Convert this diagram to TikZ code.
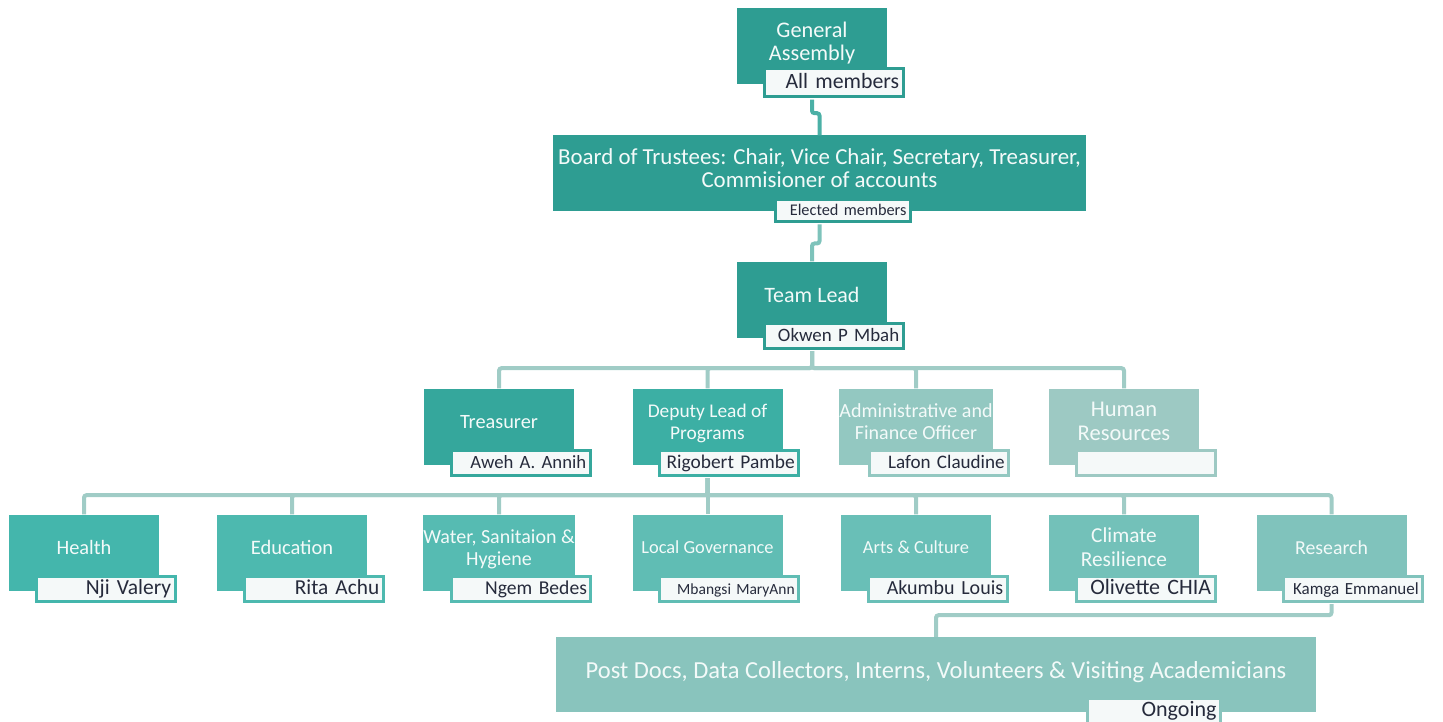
\documentclass[tikz,border=0pt]{standalone}
\usepackage{fontspec}
\setmainfont{Carlito}
\usepackage{xcolor}
\usepackage{tikz}
\usetikzlibrary{positioning}
\definecolor{cTop}{HTML}{2E9D92}
\definecolor{cTreas}{HTML}{35A79C}
\definecolor{cDeputy}{HTML}{3CAFA4}
\definecolor{cAdmin}{HTML}{93C8C1}
\definecolor{cHR}{HTML}{9DC9C3}
\definecolor{cHealth}{HTML}{44B6AC}
\definecolor{cEdu}{HTML}{4DB9AF}
\definecolor{cWash}{HTML}{56BBB2}
\definecolor{cGov}{HTML}{60BDB4}
\definecolor{cArts}{HTML}{69BFB7}
\definecolor{cClimate}{HTML}{73C1B9}
\definecolor{cResearch}{HTML}{80C3BC}
\definecolor{cPost}{HTML}{89C4BD}
\definecolor{cLinkA}{HTML}{4BB0A6}
\definecolor{cLinkB}{HTML}{7EC3BB}
\definecolor{cLink}{HTML}{A0CCC6}
\definecolor{boxtext}{HTML}{F3FAF9}
\definecolor{holderfill}{HTML}{F5F9F9}
\definecolor{nametext}{HTML}{262B3C}
\newcommand{\fsz}[2]{\fontsize{#1}{#2}\selectfont}
\tikzstyle{role} = [rectangle, text=boxtext, minimum width=150pt,
    minimum height=76pt, inner sep=0pt, align=center, text depth=10pt]
\tikzstyle{link} = [line width=4pt, draw=cLink, rounded corners=2.5pt,
    shorten <=1.5pt]
\tikzset{holder/.style={rectangle, draw=#1, line width=3pt, fill=holderfill,
    text=nametext, minimum width=139pt, minimum height=25pt, text width=131pt,
    align=right, inner xsep=4pt, inner ysep=0pt, text height=14pt,
    text depth=3pt}}

\begin{document}
\begin{tikzpicture}[x=1pt, y=-1pt]
    \path[use as bounding box, clip] (0,0) rectangle (1443,722);

    % Governance
    \node[role, fill=cTop, font=\fsz{22.3}{23}] (assembly) at (812,46.5) {General\\Assembly};
    \node[holder=cTop, minimum height=28pt, font=\fsz{21.8}{24},
        above left=-13.5pt and -17.5pt of assembly.south east] (assemblysub) {All members};
    \node[role, fill=cTop, minimum width=533pt, font=\fsz{22.9}{23}] (board) at (819.5,173.5)
        {Board of Trustees: Chair, Vice Chair, Secretary, Treasurer,\\Commisioner of accounts};
    \node[holder=cTop, minimum width=135pt, text width=127pt, minimum height=22pt,
        text height=12pt, font=\fsz{16.3}{18}] (boardsub) at (843,210.5) {Elected members};
    \node[role, fill=cTop, font=\fsz{22}{24}] (lead) at (812,299.5) {Team Lead};
    \node[holder=cTop, font=\fsz{18.9}{22}, above left=-12pt and -17.5pt of lead.south east] (leadsub) {Okwen P Mbah};

    % Management
    \node[role, fill=cTreas, font=\fsz{20.3}{22}] (treas) at (499,426.5) {Treasurer};
    \node[holder=cTreas, font=\fsz{18.7}{22}, above left=-12pt and -17.5pt of treas.south east] (treassub) {Aweh A. Annih};
    \node[role, fill=cDeputy, font=\fsz{19.4}{22}] (deputy) at (707.5,426.5) {Deputy Lead of\\Programs};
    \node[holder=cDeputy, font=\fsz{19.4}{22}, above left=-12pt and -17.5pt of deputy.south east] (deputysub) {Rigobert Pambe};
    \node[role, fill=cAdmin, font=\fsz{20}{22}] (admin) at (916,426.5) {Administrative and\\Finance Officer};
    \node[holder=cAdmin, font=\fsz{19.1}{22}, above left=-12pt and -17.5pt of admin.south east] (adminsub) {Lafon Claudine};
    \node[role, fill=cHR, font=\fsz{22.5}{24}] (hr) at (1124,426.5) {Human\\Resources};
    \node[holder=cHR, font=\fsz{19.5}{22}, above left=-12pt and -17.5pt of hr.south east] (hrsub) {};

    % Programs
    \node[role, fill=cHealth, font=\fsz{20.4}{22}] (health) at (84,552.5) {Health};
    \node[holder=cHealth, font=\fsz{21.5}{24}, above left=-12pt and -17.5pt of health.south east] (healthsub) {Nji Valery};
    \node[role, fill=cEdu, font=\fsz{20.5}{22}] (edu) at (292,552.5) {Education};
    \node[holder=cEdu, font=\fsz{21.3}{24}, above left=-12pt and -17.5pt of edu.south east] (edusub) {Rita Achu};
    \node[role, fill=cWash, font=\fsz{20}{22}] (wash) at (499,552.5) {Water, Sanitaion \&\\Hygiene};
    \node[holder=cWash, font=\fsz{19.6}{22}, above left=-12pt and -17.5pt of wash.south east] (washsub) {Ngem Bedes};
    \node[role, fill=cGov, font=\fsz{18.4}{22}] (gov) at (707.5,552.5) {Local Governance};
    \node[holder=cGov, font=\fsz{15.5}{18}, above left=-12pt and -17.5pt of gov.south east] (govsub) {Mbangsi MaryAnn};
    \node[role, fill=cArts, font=\fsz{18.4}{22}] (arts) at (916,552.5) {Arts \& Culture};
    \node[holder=cArts, font=\fsz{20}{22}, above left=-12pt and -17.5pt of arts.south east] (artssub) {Akumbu Louis};
    \node[role, fill=cClimate, font=\fsz{21.3}{24}] (climate) at (1124,552.5) {Climate\\Resilience};
    \node[holder=cClimate, font=\fsz{22}{24}, above left=-12pt and -17.5pt of climate.south east] (climatesub) {Olivette CHIA};
    \node[role, fill=cResearch, font=\fsz{19.8}{22}] (research) at (1331.5,552.5) {Research};
    \node[holder=cResearch, font=\fsz{17}{20}, above left=-12pt and -17.5pt of research.south east] (researchsub) {Kamga Emmanuel};

    % Support staff
    \node[role, fill=cPost, minimum width=760pt, minimum height=75pt, font=\fsz{24.5}{26}] (post) at (936,674.5)
        {Post Docs, Data Collectors, Interns, Volunteers \& Visiting Academicians};
    \node[holder=cPost, minimum width=133pt, text width=125pt, minimum height=31pt,
        text height=14pt, text depth=10pt, font=\fsz{22}{24}] (postsub) at (1154,714) {Ongoing};

    % Links
    \draw[link, draw=cLinkA] (assembly.south |- assemblysub.south) -- ++(0,15) -| (board.north);
    \draw[link, draw=cLinkB] (board.south |- boardsub.south) -- ++(0,20.5) -| (lead.north);
    \draw[link] (lead.south |- leadsub.south) -- ++(0,18.5) -| (treas.north);
    \draw[link] (lead.south |- leadsub.south) -- ++(0,18.5) -| (deputy.north);
    \draw[link] (lead.south |- leadsub.south) -- ++(0,18.5) -| (admin.north);
    \draw[link] (lead.south |- leadsub.south) -- ++(0,18.5) -| (hr.north);
    \draw[link] (deputy.south |- deputysub.south) -- ++(0,18.5) -| (health.north);
    \draw[link] (deputy.south |- deputysub.south) -- ++(0,18.5) -| (edu.north);
    \draw[link] (deputy.south |- deputysub.south) -- ++(0,18.5) -| (wash.north);
    \draw[link] (deputy.south |- deputysub.south) -- ++(0,18.5) -| (gov.north);
    \draw[link] (deputy.south |- deputysub.south) -- ++(0,18.5) -| (arts.north);
    \draw[link] (deputy.south |- deputysub.south) -- ++(0,18.5) -| (climate.north);
    \draw[link] (deputy.south |- deputysub.south) -- ++(0,18.5) -| (research.north);
    \draw[link] (research.south |- researchsub.south) -- ++(0,12.5) -| (post.north);
\end{tikzpicture}
\end{document}
